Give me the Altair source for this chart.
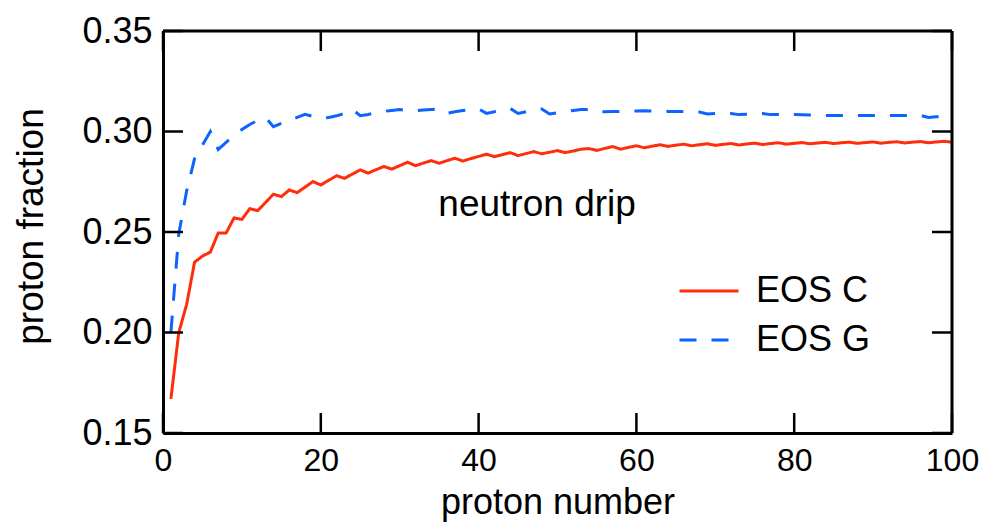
import altair as alt
import pandas as pd

proton_number = list(range(1, 101))

eos_c = [
    0.167, 0.200, 0.214, 0.235, 0.238, 0.240, 0.2495, 0.2495, 0.257, 0.2563,
    0.2616, 0.2606, 0.2647, 0.2688, 0.2676, 0.2709, 0.2696, 0.2723, 0.2751, 0.2734,
    0.2757, 0.2780, 0.2767, 0.2788, 0.2809, 0.2793, 0.2810, 0.2826, 0.2813, 0.2830,
    0.2847, 0.2830, 0.2843, 0.2855, 0.2842, 0.2855, 0.2867, 0.2853, 0.2865, 0.2876,
    0.2887, 0.2875, 0.2885, 0.2895, 0.2880, 0.2890, 0.2900, 0.2889, 0.2897, 0.2905,
    0.2895, 0.2903, 0.2912, 0.2915, 0.2906, 0.2916, 0.2925, 0.2912, 0.2921, 0.2929,
    0.2919, 0.2927, 0.2934, 0.2926, 0.2932, 0.2937, 0.2929, 0.2934, 0.2939, 0.2931,
    0.2936, 0.2940, 0.2933, 0.2938, 0.2942, 0.2935, 0.2940, 0.2944, 0.2937, 0.2941,
    0.2945, 0.2939, 0.2943, 0.2946, 0.2940, 0.2944, 0.2947, 0.2941, 0.2945, 0.2948,
    0.2942, 0.2946, 0.2949, 0.2943, 0.2947, 0.2950, 0.2944, 0.2948, 0.2951, 0.2947,
]

eos_g = [
    0.200, 0.249, 0.2705, 0.2865, 0.2933, 0.3000, 0.2911, 0.2946, 0.2980, 0.3010,
    0.3035, 0.3055, 0.3070, 0.3024, 0.3040, 0.3055, 0.3070, 0.3085, 0.3075, 0.3065,
    0.3070, 0.3078, 0.3090, 0.3110, 0.3079, 0.3085, 0.3093, 0.3100, 0.3105, 0.3109,
    0.3105, 0.3103, 0.3107, 0.3110, 0.3112, 0.3090, 0.3098, 0.3104, 0.3110, 0.3112,
    0.3090, 0.3098, 0.3108, 0.3115, 0.3090, 0.3098, 0.3110, 0.3112, 0.3087, 0.3093,
    0.3099, 0.3105, 0.3109, 0.3110, 0.3097, 0.3098, 0.3099, 0.3100, 0.3101, 0.3102,
    0.3103, 0.3102, 0.3101, 0.3100, 0.3100, 0.3100, 0.3098, 0.3097, 0.3087, 0.3089,
    0.3090, 0.3090, 0.3084, 0.3086, 0.3088, 0.3090, 0.3084, 0.3084, 0.3084, 0.3084,
    0.3083, 0.3082, 0.3081, 0.3080, 0.3080, 0.3080, 0.3080, 0.3080, 0.3080, 0.3080,
    0.3080, 0.3080, 0.3080, 0.3080, 0.3080, 0.3080, 0.3070, 0.3073, 0.3075, 0.3088,
]

series_names = ["EOS C", "EOS G"]
series_colors = ["#ff2d0a", "#0d63ff"]
x_ticks = [0, 20, 40, 60, 80, 100]
y_ticks = [0.15, 0.20, 0.25, 0.30, 0.35]
annotation_text = ["neutron drip"]
annotation_x = [34.9]
annotation_y = [0.2635]

W, H = 789, 402
FONT = "Liberation Sans, Arial, Helvetica, sans-serif"

df = pd.DataFrame({
    "Z": proton_number * 2,
    "frac": eos_c + eos_g,
    "series": [series_names[0]] * len(eos_c) + [series_names[1]] * len(eos_g),
})
xt = pd.DataFrame({"v": x_ticks})
yt = pd.DataFrame({"v": y_ticks})
ann = pd.DataFrame({"t": annotation_text, "x": annotation_x, "y": annotation_y})
frame_top = pd.DataFrame({"x0": [x_ticks[0]], "x1": [x_ticks[-1]], "y": [y_ticks[-1]]})
frame_right = pd.DataFrame({"x": [x_ticks[-1]], "y0": [y_ticks[0]], "y1": [y_ticks[-1]]})

xs = alt.Scale(domain=[0, 100], nice=False, zero=False)
ys = alt.Scale(domain=[0.15, 0.35], nice=False, zero=False)

legend = alt.Legend(
    title=None, orient="none", legendX=515, legendY=229,
    symbolType="M-1,0H1", symbolSize=3481, symbolStrokeWidth=3,
    labelFontSize=36, labelFont=FONT, labelColor="black", labelOffset=16,
    rowPadding=-10, padding=0,
)

lines = alt.Chart(df).mark_line(strokeWidth=3).encode(
    x=alt.X("Z:Q", scale=xs, axis=alt.Axis(
        title="proton number", values=x_ticks, format="d", domain=True, domainColor="black",
        domainWidth=3, ticks=False, tickSize=0, labelPadding=12, labelFontSize=32, titleFontSize=36,
        titleFontWeight="normal", titleY=80, titleBaseline="alphabetic",
        labelFlush=False, grid=False)),
    y=alt.Y("frac:Q", scale=ys, axis=alt.Axis(
        title="proton fraction", values=y_ticks, format=".2f", domain=True, domainColor="black",
        domainWidth=3, ticks=False, tickSize=0, labelPadding=11, labelFontSize=36, titleFontSize=37,
        titleFontWeight="normal", titleAngle=270, titleX=-132, titleY=195,
        titleAlign="center", titleBaseline="middle", labelFlush=False, grid=False)),
    color=alt.Color("series:N", scale=alt.Scale(domain=series_names, range=series_colors), legend=legend),
    strokeDash=alt.StrokeDash("series:N", scale=alt.Scale(domain=series_names, range=[[1, 0], [17, 15]]), legend=legend),
)

tick_style = dict(color="black", strokeWidth=2.5)
xb = alt.Chart(xt).mark_rule(**tick_style).encode(x=alt.X("v:Q", scale=xs), y=alt.value(H), y2=alt.value(H - 20))
xtp = alt.Chart(xt).mark_rule(**tick_style).encode(x=alt.X("v:Q", scale=xs), y=alt.value(0), y2=alt.value(20))
yl = alt.Chart(yt).mark_rule(**tick_style).encode(y=alt.Y("v:Q", scale=ys), x=alt.value(0), x2=alt.value(20))
yr = alt.Chart(yt).mark_rule(**tick_style).encode(y=alt.Y("v:Q", scale=ys), x=alt.value(W), x2=alt.value(W - 20))

frame_style = dict(color="black", strokeWidth=3)
ftop = alt.Chart(frame_top).mark_rule(**frame_style).encode(
    x=alt.X("x0:Q", scale=xs), x2="x1:Q", y=alt.Y("y:Q", scale=ys))
fright = alt.Chart(frame_right).mark_rule(**frame_style).encode(
    x=alt.X("x:Q", scale=xs), y=alt.Y("y0:Q", scale=ys), y2="y1:Q")

text = alt.Chart(ann).mark_text(align="left", baseline="middle", fontSize=37, font=FONT, color="black").encode(
    x=alt.X("x:Q", scale=xs), y=alt.Y("y:Q", scale=ys), text="t:N")

chart = alt.layer(lines, xb, xtp, yl, yr, ftop, fright, text).properties(
    width=W, height=H,
    autosize=alt.AutoSizeParams(type="none"),
    padding={"left": 163, "top": 31, "right": 34, "bottom": 91},
).configure_view(stroke=None).configure_axis(
    labelFont=FONT, titleFont=FONT, labelColor="black", titleColor="black",
).configure(background="white")

chart.save("out.html", embed_options={"renderer": "svg", "actions": False})
